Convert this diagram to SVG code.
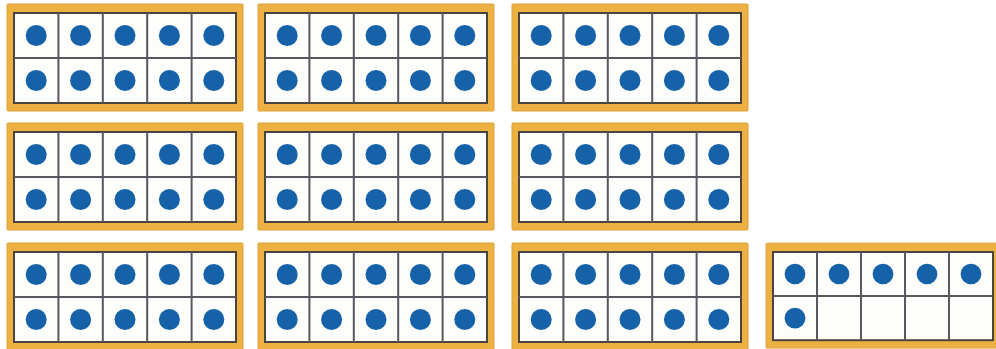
<svg xmlns="http://www.w3.org/2000/svg" xmlns:xlink="http://www.w3.org/1999/xlink" width="996" height="349" viewBox="0 0 996 349">
<style>
.frame{fill:#ECB043;stroke:#DDA035;stroke-width:1}
.grid{fill:#FDFDFB;stroke:#4A443E;stroke-width:2}
.ln{stroke:#5A5660;stroke-width:2}
.dot{fill:#1562A8}
</style>
<defs>
<g id="tf">
<rect class="frame" x="-7" y="-9" width="236" height="107" rx="1"/>
<rect class="grid" x="0" y="0" width="222" height="90"/>
<line class="ln" x1="0" y1="45" x2="222" y2="45"/>
<line class="ln" x1="44.4" y1="0" x2="44.4" y2="90"/>
<line class="ln" x1="88.8" y1="0" x2="88.8" y2="90"/>
<line class="ln" x1="133.2" y1="0" x2="133.2" y2="90"/>
<line class="ln" x1="177.6" y1="0" x2="177.6" y2="90"/>
</g>
<g id="row5">
<circle class="dot" cx="22.2" cy="0" r="10.5"/>
<circle class="dot" cx="66.6" cy="0" r="10.5"/>
<circle class="dot" cx="111" cy="0" r="10.5"/>
<circle class="dot" cx="155.4" cy="0" r="10.5"/>
<circle class="dot" cx="199.8" cy="0" r="10.5"/>
</g>
<g id="full">
<use xlink:href="#tf"/>
<use xlink:href="#row5" y="22.5"/>
<use xlink:href="#row5" y="67.5"/>
</g>
</defs>
<g id="frame-1-1" transform="translate(14,13)"><use xlink:href="#full"/></g>
<g id="frame-1-2" transform="translate(265,13)"><use xlink:href="#full"/></g>
<g id="frame-1-3" transform="translate(519,13)"><use xlink:href="#full"/></g>
<g id="frame-2-1" transform="translate(14,132)"><use xlink:href="#full"/></g>
<g id="frame-2-2" transform="translate(265,132)"><use xlink:href="#full"/></g>
<g id="frame-2-3" transform="translate(519,132)"><use xlink:href="#full"/></g>
<g id="frame-3-1" transform="translate(14,252)"><use xlink:href="#full"/></g>
<g id="frame-3-2" transform="translate(265,252)"><use xlink:href="#full"/></g>
<g id="frame-3-3" transform="translate(519,252)"><use xlink:href="#full"/></g>
<g id="frame-3-4" transform="translate(773,252) scale(0.991,0.98)">
<use xlink:href="#tf"/>
<use xlink:href="#row5" y="22.5"/>
<circle class="dot" cx="22.2" cy="67.5" r="10.5"/>
</g>
<g id="connectors"/>
</svg>
